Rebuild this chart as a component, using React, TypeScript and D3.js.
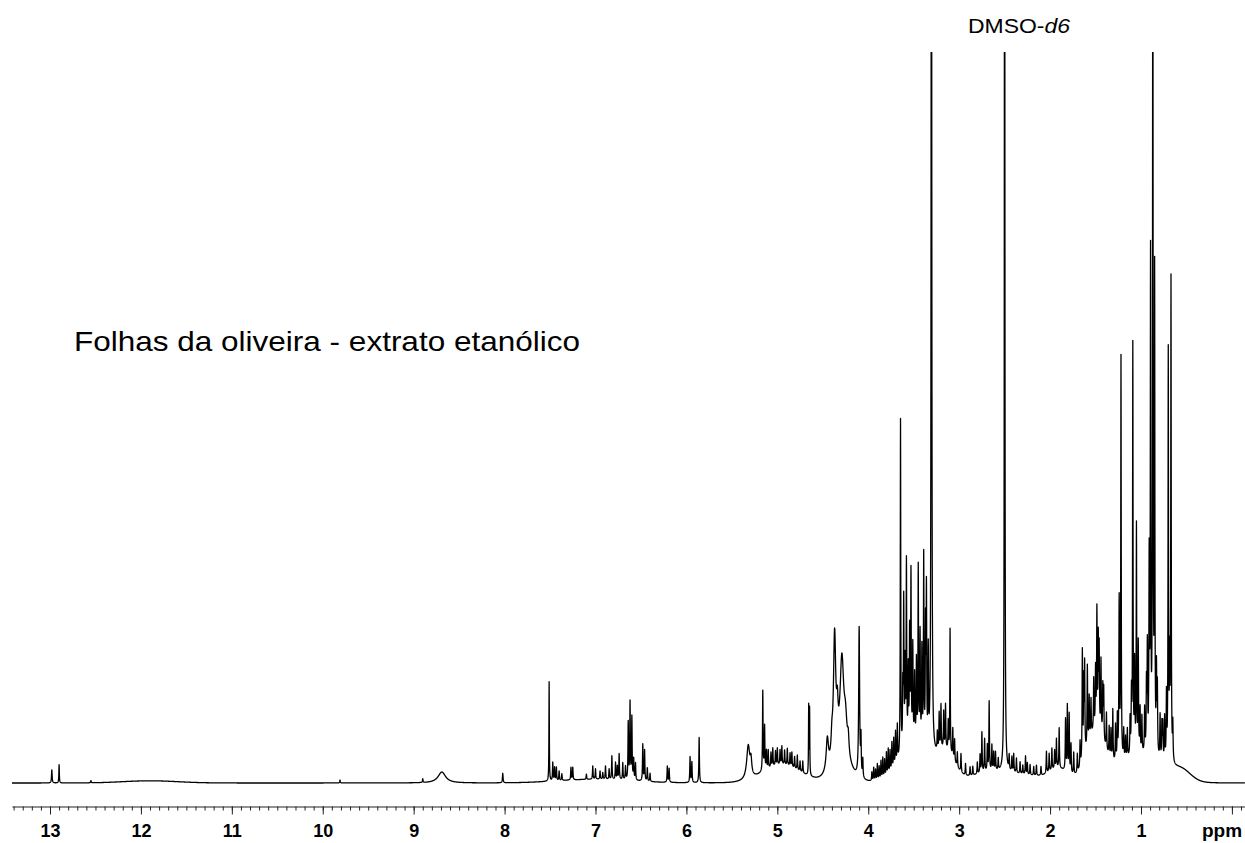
import * as d3 from "d3";
import * as React from "react";

// peak lists: [ppm, height (% of plot height), half width (ppm)]
type Peak = [number, number, number?];

const farPeaks: Peak[] = [
  [12.98, 1.8, 0.004], [12.9, 2.5, 0.003], [12.55, 0.3], [9.81, 0.4], [8.9, 0.5],
  [8.69, 1.5, 0.05], [8.02, 1.3, 0.004],
];

const aromaticPeaks: Peak[] = [
  [7.51, 13.6, 0.0025], [7.47, 2.5], [7.45, 1.8], [7.43, 1.8], [7.4, 1.3], [7.37, 0.9],
  [7.27, 1.7], [7.25, 1.7], [7.1, 0.7], [7.03, 1.8], [7.0, 1.4], [6.95, 1.1], [6.92, 0.9],
  [6.89, 1.8], [6.85, 1.4], [6.82, 3.2], [6.78, 2.3], [6.76, 1.8], [6.74, 3.5], [6.7, 2.3],
  [6.67, 1.8], [6.64, 7.8], [6.62, 10.5], [6.6, 8.5], [6.58, 2.8], [6.56, 2.3], [6.48, 5.0],
  [6.46, 4.2], [6.43, 1.8], [6.4, 1.1], [6.21, 2.2], [6.19, 1.9], [5.96, 3.5], [5.94, 2.8],
  [5.86, 6.2],
];

const sugarPeaks: Peak[] = [
  [5.32, 4.6, 0.02], [5.29, 2.0, 0.01], [5.16, 11.0], [5.14, 6.0], [5.12, 2.5], [5.1, 2.5],
  [5.07, 2.0], [5.05, 2.5], [5.02, 2.0], [5.0, 2.3], [4.97, 2.0], [4.95, 2.5], [4.92, 2.0],
  [4.89, 2.3], [4.86, 1.8], [4.84, 2.0], [4.81, 1.6], [4.78, 2.0], [4.75, 1.4], [4.72, 1.6],
  [4.655, 9.4, 0.0025], [4.645, 9.0, 0.0025], [4.45, 4.4, 0.015], [4.4, 2.5, 0.01],
  [4.37, 17.0, 0.015], [4.34, 4.5, 0.01], [4.29, 13.5, 0.025], [4.25, 4.5, 0.02],
  [4.22, 2.5, 0.01], [4.1, 20.5, 0.006], [4.08, 5.0], [4.06, 2.5],
  [3.96, 1.2], [3.94, 1.8], [3.92, 1.5], [3.9, 2.2], [3.88, 1.8], [3.86, 2.5], [3.84, 2.8],
  [3.82, 2.4], [3.8, 3.2], [3.78, 3.5], [3.76, 3.0], [3.74, 3.8], [3.72, 4.0], [3.7, 4.5],
  [3.68, 5.0], [3.645, 46, 0.003], [3.62, 8], [3.61, 20], [3.595, 11], [3.58, 25],
  [3.56, 10], [3.545, 15], [3.53, 23], [3.51, 13], [3.49, 9], [3.47, 11], [3.45, 24],
  [3.43, 15], [3.41, 13], [3.39, 26], [3.37, 16], [3.36, 21], [3.34, 13],
];

const solventPeaks: Peak[] = [
  [3.305, 160, 0.004], [2.5, 180, 0.003],
];

const midPeaks: Peak[] = [
  [3.24, 2.5], [3.22, 5], [3.2, 6], [3.17, 5], [3.15, 6], [3.12, 4], [3.1, 17, 0.003],
  [3.07, 4], [3.05, 3], [3.02, 2], [2.98, 2.5], [2.93, 1.6], [2.88, 1.2], [2.85, 1.2],
  [2.8, 1.6], [2.77, 2.5], [2.75, 5.5], [2.72, 4.5], [2.69, 3.5], [2.67, 9.5], [2.64, 3.5],
  [2.62, 2.5], [2.6, 2.5], [2.57, 1.6], [2.45, 2.0], [2.42, 2.0], [2.4, 2.5], [2.37, 2.0],
  [2.33, 1.6], [2.3, 1.2], [2.27, 2.5], [2.25, 1.6], [2.22, 1.4], [2.18, 1.2], [2.15, 1.4],
  [2.1, 1.2], [2.04, 3.0], [2.01, 2.5], [1.98, 3.0], [1.95, 2.5], [1.93, 4.0], [1.9, 5.5],
];

const aliphaticPeaks: Peak[] = [
  [1.83, 7], [1.81, 9], [1.79, 8], [1.77, 4], [1.74, 3], [1.7, 2.5], [1.67, 3.5],
  [1.645, 15], [1.63, 10], [1.62, 12], [1.59, 11], [1.57, 6], [1.55, 5], [1.52, 7],
  [1.5, 8], [1.485, 16], [1.47, 12], [1.46, 11], [1.44, 10], [1.42, 7], [1.41, 7],
  [1.38, 5], [1.35, 4], [1.33, 4], [1.31, 7], [1.28, 5], [1.26, 6], [1.24, 22, 0.004],
  [1.22, 55, 0.003], [1.19, 4], [1.17, 3], [1.15, 4], [1.12, 5], [1.105, 8],
  [1.09, 56, 0.003], [1.07, 12], [1.05, 31, 0.003], [1.03, 15], [1.01, 6], [0.99, 5],
  [0.96, 6], [0.94, 9], [0.93, 14], [0.91, 26], [0.895, 67, 0.003], [0.87, 140, 0.003],
  [0.85, 65, 0.003], [0.83, 11], [0.82, 9], [0.79, 6], [0.77, 5], [0.76, 5], [0.74, 6],
  [0.72, 9], [0.7, 56, 0.003], [0.685, 13], [0.67, 66, 0.003], [0.65, 5],
];

// broad underlying humps: [ppm, height %, sigma ppm]
const broadHumps: [number, number, number][] = [
  [11.9, 0.3, 0.3], [7.0, 0.5, 0.4], [4.95, 2.4, 0.2], [4.3, 2.5, 0.1], [3.5, 5, 0.15],
  [3.15, 4, 0.1], [2.7, 1.0, 0.2], [2.3, 1.0, 0.3], [1.9, 1.5, 0.1], [1.5, 6.5, 0.1],
  [1.0, 3.5, 0.25], [0.55, 1.3, 0.1],
];

const majorTicks = [13, 12, 11, 10, 9, 8, 7, 6, 5, 4, 3, 2, 1, 0];
const solventLabel = "DMSO-";
const solventItalic = "d6";
const sampleTitle = "Folhas da oliveira - extrato etanólico";
const unitLabel = "ppm";

const allPeaks: Peak[] = [
  ...farPeaks, ...aromaticPeaks, ...sugarPeaks, ...solventPeaks, ...midPeaks, ...aliphaticPeaks,
];

function intensityAt(ppm: number) {
  let s = 0;
  for (const [c, h, w = 0.0035] of allPeaks) {
    const d = ppm - c;
    s += (h * w * w) / (d * d + w * w);
  }
  for (const [c, h, sg] of broadHumps) {
    const d = ppm - c;
    s += h * Math.exp(-(d * d) / (2 * sg * sg));
  }
  return s;
}

function drawSpectrum(svgRef: React.RefObject<SVGSVGElement>) {
  const svg = d3.select(svgRef.current);
  svg.selectAll("*").remove();

  const font = '"Liberation Sans", Arial, sans-serif';
  const x = d3.scaleLinear().domain([13.418, -0.144]).range([12, 1245]);
  const y = d3.scaleLinear().domain([0, 100]).range([783, 52]);

  const grid = d3.range(13.418, -0.144, -0.001);
  const pts = grid.map((p) => [p, intensityAt(p)] as [number, number]);

  svg
    .append("defs")
    .append("clipPath")
    .attr("id", "plotClip")
    .append("rect")
    .attr("x", 0)
    .attr("y", 52)
    .attr("width", 1245)
    .attr("height", 760);

  const line = d3
    .line<[number, number]>()
    .x((d) => x(d[0]))
    .y((d) => y(d[1]));

  svg
    .append("path")
    .attr("d", line(pts))
    .attr("clip-path", "url(#plotClip)")
    .style("fill", "none")
    .style("stroke", "#000")
    .style("stroke-width", 1.3)
    .style("stroke-linejoin", "round");

  // minor ticks
  svg
    .append("g")
    .attr("transform", "translate(0, 806.5)")
    .call(
      d3
        .axisBottom(x)
        .tickValues(d3.range(13.4, -0.15, -0.1))
        .tickSize(4)
        .tickSizeOuter(0)
        .tickFormat(() => "")
    )
    .call((g) => g.selectAll("line,path").attr("stroke", "#222"));

  // major ticks
  const ax = svg
    .append("g")
    .attr("transform", "translate(0, 806.5)")
    .call(
      d3
        .axisBottom(x)
        .tickValues(majorTicks)
        .tickSize(8)
        .tickSizeOuter(0)
        .tickFormat((d) => (d === 0 ? "" : String(d)))
    );
  ax.selectAll("line,path").attr("stroke", "#222");
  ax.select(".domain").remove();
  ax.selectAll("text")
    .attr("y", 30.5)
    .attr("dy", 0)
    .attr("fill", "#000")
    .style("font-family", font)
    .style("font-size", "18px")
    .style("font-weight", "bold");

  svg
    .append("text")
    .attr("x", 1222)
    .attr("y", 836.5)
    .attr("text-anchor", "middle")
    .style("font-family", font)
    .style("font-size", "19px")
    .style("font-weight", "bold")
    .text(unitLabel);

  const lbl = svg
    .append("text")
    .attr("x", 968)
    .attr("y", 33)
    .attr("textLength", 102)
    .attr("lengthAdjust", "spacingAndGlyphs")
    .style("font-family", font)
    .style("font-size", "20px");
  lbl.append("tspan").text(solventLabel);
  lbl.append("tspan").style("font-style", "italic").text(solventItalic);

  svg
    .append("text")
    .attr("x", 74)
    .attr("y", 351)
    .attr("textLength", 506)
    .attr("lengthAdjust", "spacingAndGlyphs")
    .style("font-family", font)
    .style("font-size", "28px")
    .text(sampleTitle);
}

export default function App() {
  const ref = React.useRef<SVGSVGElement>(null);

  React.useEffect(() => {
    document.body.style.margin = "0";
    drawSpectrum(ref);
  }, []);

  return (
    <svg ref={ref} width={1245} height={843} style={{ display: "block", background: "#fff" }} />
  );
}
